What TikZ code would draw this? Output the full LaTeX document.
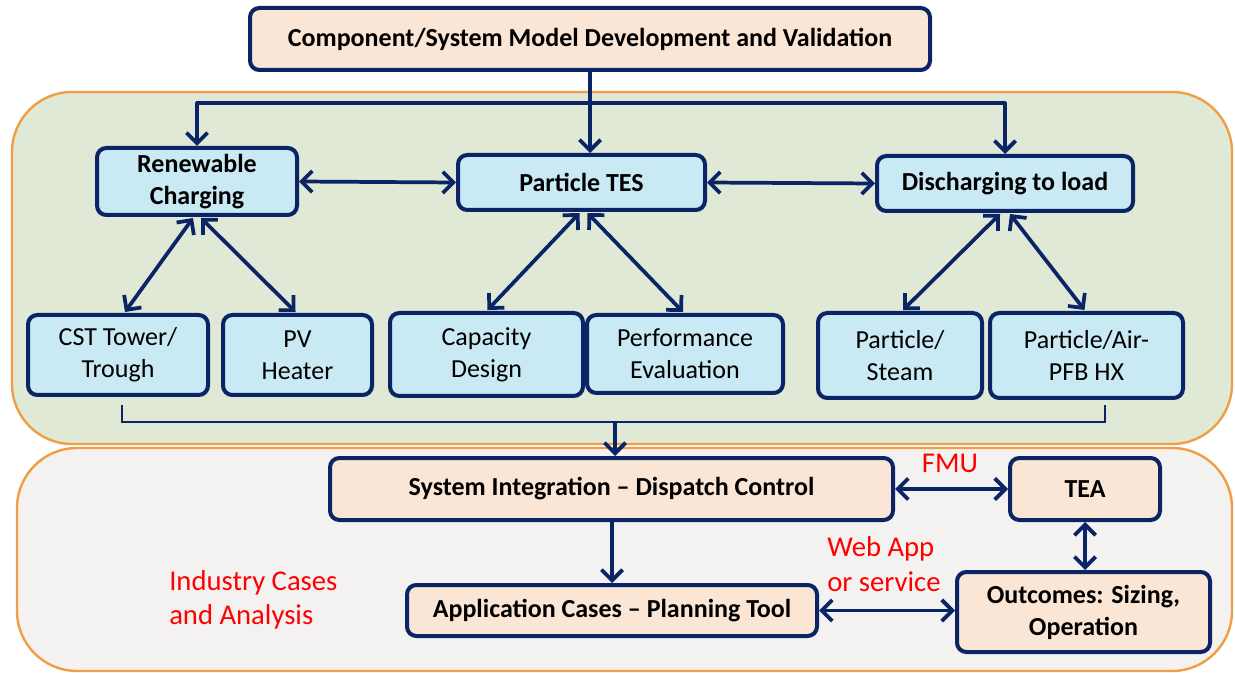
\documentclass[tikz,border=0pt]{standalone}
\usepackage{fontspec}
\setmainfont{Carlito}
\usetikzlibrary{arrows.meta,calc}
\definecolor{navy}{RGB}{10,36,102}
\definecolor{lblue}{RGB}{201,233,244}
\definecolor{peach}{RGB}{251,229,213}
\definecolor{greenp}{RGB}{224,233,213}
\definecolor{greyp}{RGB}{244,242,241}
\definecolor{orangeb}{RGB}{240,158,70}
\definecolor{redt}{RGB}{255,0,0}
\begin{document}
\begin{tikzpicture}[x=0.75pt,y=-0.75pt,
  panel/.style={draw=orangeb, line width=1.8pt, rounded corners=45pt},
  box/.style={draw=navy, line width=3pt, rounded corners=7pt, inner sep=0pt,
    align=center, font=\fontsize{19.5}{24}\selectfont},
  bluebox/.style={box, fill=lblue},
  peachbox/.style={box, fill=peach},
  bf/.style={font=\fontsize{19.5}{24}\selectfont\bfseries},
  conn/.style={draw=navy, line width=2.8pt},
  arr/.style={conn, -{Straight Barb[length=8pt,width=16pt]}},
  darr/.style={conn, {Straight Barb[length=8pt,width=16pt]}-{Straight Barb[length=8pt,width=16pt]}},
  redlbl/.style={text=redt, align=left, inner sep=0pt, font=\fontsize{21.5}{26}\selectfont}]
\useasboundingbox (0,0) rectangle (1235,673);
\fill[white] (0,0) rectangle (1235,673);
% panels
\draw[panel, fill=greenp] (12,92) rectangle (1232,444);
\draw[panel, fill=greyp] (17,448) rectangle (1232,671);
% boxes
\node[peachbox, bf, minimum width=510pt, minimum height=46.5pt] (top) at (590,39) {Component/System Model Development and Validation};
\node[bluebox, bf, minimum width=150pt, minimum height=50.25pt] (ren) at (197,181.5) {Renewable\\Charging};
\node[bluebox, bf, minimum width=185.25pt, minimum height=41.25pt] (tes) at (581.5,182.5) {Particle TES};
\node[bluebox, bf, minimum width=192pt, minimum height=41.25pt] (disc) at (1005,183.5) {Discharging to load};
\node[bluebox, minimum width=135pt, minimum height=60pt] (cst) at (118,355) {CST Tower/\\Trough};
\node[bluebox, minimum width=111.75pt, minimum height=60pt] (pv) at (297.5,355) {PV\\Heater};
\node[bluebox, minimum width=144.75pt, minimum height=62.25pt] (cap) at (486.5,354.5) {Capacity\\Design};
\node[bluebox, minimum width=147pt, minimum height=58.5pt] (perf) at (685,354) {Performance\\Evaluation};
\node[bluebox, minimum width=123pt, minimum height=63.75pt] (steam) at (900,355.5) {Particle/\\Steam};
\node[bluebox, minimum width=144.75pt, minimum height=63.75pt] (air) at (1086.5,355.5) {Particle/Air-\\PFB HX};
\node[peachbox, bf, minimum width=422.25pt, minimum height=46.5pt] (si) at (611.5,489) {System Integration -- Dispatch Control};
\node[peachbox, bf, minimum width=112.5pt, minimum height=46.5pt] (tea) at (1085,489) {TEA};
\node[peachbox, bf, minimum width=307.5pt, minimum height=38.25pt] (app) at (612,610.5) {Application Cases -- Planning Tool};
\node[peachbox, bf, minimum width=189.75pt, minimum height=60pt] (out) at (1083.5,612) {Outcomes: Sizing,\\Operation};
% red labels
\node[redlbl] (fmu) at (950,463) {FMU};
\node[redlbl, anchor=west] (web) at (827,564) {Web App\\or service};
\node[redlbl, anchor=west] (ind) at (169,600) {Industry Cases\\and Analysis};
% bus from top
\coordinate (bus) at (590,103);
\draw[conn] (top.south) -- (bus);
\draw[conn, line cap=round] (ren.north |- bus) -- (disc.north |- bus);
\draw[arr] (ren.north |- bus) -- (ren.north);
\draw[arr] (bus) -- (bus |- tes.north);
\draw[arr] (disc.north |- bus) -- (disc.north);
% horizontal links
\draw[darr] (ren.east) -- (tes.west);
\draw[darr] (tes.east) -- (disc.west);
% diagonals
\draw[darr] ($(ren.south)+(-4,1)$) -- ($(cst.north)+(7,-1)$);
\draw[darr] ($(ren.south)+(4,1)$) -- ($(pv.north)+(-2,-1)$);
\draw[darr] ($(tes.south)+(-2,1)$) -- ($(cap.north)+(1,-1)$);
\draw[darr] ($(tes.south)+(6,1)$) -- ($(perf.north)+(-2,-1)$);
\draw[darr] ($(disc.south)+(-5,1)$) -- ($(steam.north)+(3,-1)$);
\draw[darr] ($(disc.south)+(5,1)$) -- ($(air.north)+(-2,-1)$);
% collecting bracket
\coordinate (bl) at (122,405);
\coordinate (br) at (1105,405);
\coordinate (bm) at (615,422);
\draw[conn, line width=2pt] (bl) |- (bm) -| (br);
\draw[arr] (bm) -- (bm |- si.north);
% lower section
\draw[arr] (si.south -| app.north) -- (app.north);
\draw[darr] (si.east) -- (tea.west);
\draw[darr] (tea.south) -- (tea.south |- out.north);
\draw[darr] (app.east) -- (app.east -| out.west);
\end{tikzpicture}
\end{document}
